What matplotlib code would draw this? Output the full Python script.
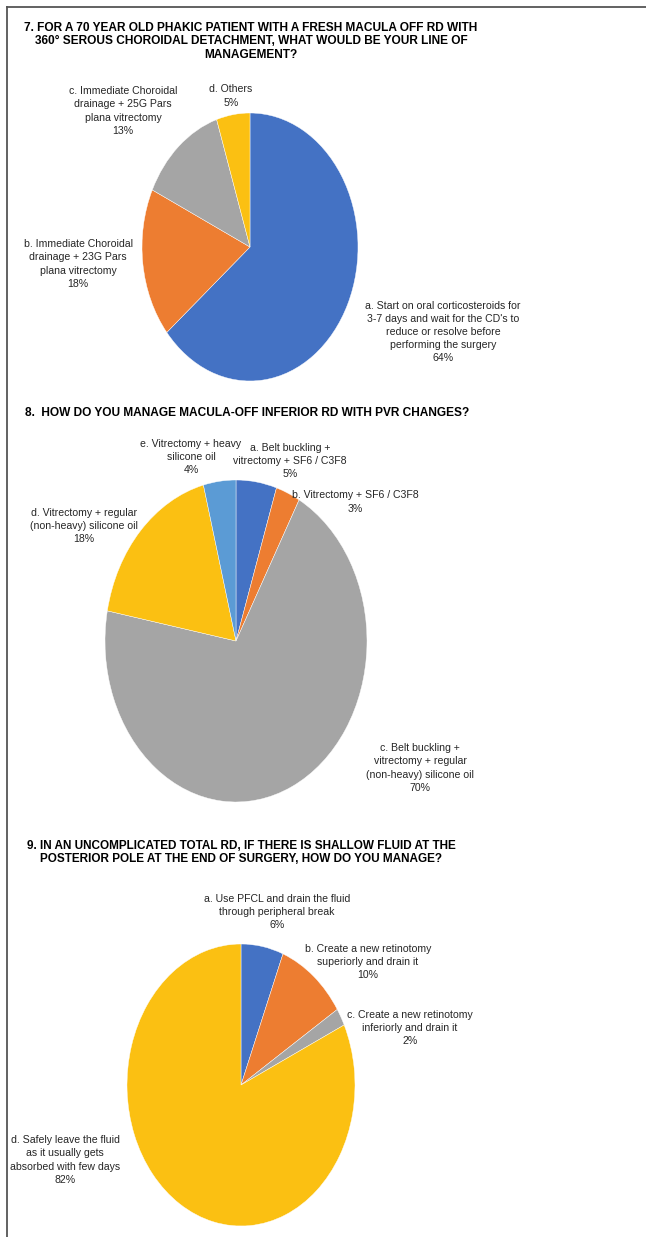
import matplotlib
matplotlib.use("Agg")
import matplotlib.pyplot as plt
from matplotlib.lines import Line2D

# ---- data -------------------------------------------------------------
q7_title = ("7. FOR A 70 YEAR OLD PHAKIC PATIENT WITH A FRESH MACULA OFF RD WITH\n"
            "360° SEROUS CHOROIDAL DETACHMENT, WHAT WOULD BE YOUR LINE OF\n"
            "MANAGEMENT?")
q7_labels = ["a. Start on oral corticosteroids for\n3-7 days and wait for the CD's to\n"
             "reduce or resolve before\nperforming the surgery",
             "b. Immediate Choroidal\ndrainage + 23G Pars\nplana vitrectomy",
             "c. Immediate Choroidal\ndrainage + 25G Pars\nplana vitrectomy",
             "d. Others"]
q7_values = [64, 18, 13, 5]

q8_title = "8.  HOW DO YOU MANAGE MACULA-OFF INFERIOR RD WITH PVR CHANGES?"
q8_labels = ["a. Belt buckling +\nvitrectomy + SF6 / C3F8",
             "b. Vitrectomy + SF6 / C3F8",
             "c. Belt buckling +\nvitrectomy + regular\n(non-heavy) silicone oil",
             "d. Vitrectomy + regular\n(non-heavy) silicone oil",
             "e. Vitrectomy + heavy\nsilicone oil"]
q8_values = [5, 3, 70, 18, 4]

q9_title = ("9. IN AN UNCOMPLICATED TOTAL RD, IF THERE IS SHALLOW FLUID AT THE\n"
            "POSTERIOR POLE AT THE END OF SURGERY, HOW DO YOU MANAGE?")
q9_labels = ["a. Use PFCL and drain the fluid\nthrough peripheral break",
             "b. Create a new retinotomy\nsuperiorly and drain it",
             "c. Create a new retinotomy\ninferiorly and drain it",
             "d. Safely leave the fluid\nas it usually gets\nabsorbed with few days"]
q9_values = [6, 10, 2, 82]

# ---- styling ----------------------------------------------------------
BLUE, ORANGE, GRAY, YELLOW, LIGHTBLUE = "#4472C4", "#ED7D31", "#A5A5A5", "#FBC012", "#5B9BD5"
FONT = ["Liberation Sans", "DejaVu Sans"]
W, H, DPI = 646, 1237, 100

fig = plt.figure(figsize=(W / DPI, H / DPI), dpi=DPI)
fig.patch.set_facecolor("white")


def fx(x):
    return x / W


def fy(y):
    return 1 - y / H


def draw_pie(values, colors, cx, cy, rx, ry):
    """Pie drawn as an ellipse with centre (cx, cy) and radii rx, ry in pixels."""
    ax = fig.add_axes([fx(cx - 1.25 * rx), fy(cy + 1.25 * ry),
                       2.5 * rx / W, 2.5 * ry / H])
    ax.pie(values, colors=colors, startangle=90, counterclock=False,
           wedgeprops=dict(linewidth=0.3, edgecolor="white"))
    ax.set_aspect("auto")
    ax.set_xlim(-1.25, 1.25)
    ax.set_ylim(-1.25, 1.25)
    ax.axis("off")
    return ax


def label(text, value, x, y):
    fig.text(fx(x), fy(y), f"{text}\n{value}%", ha="center", va="center",
             multialignment="center", fontsize=7.6, family=FONT,
             color="#262626", linespacing=1.38)


def title(text, x, y, size, ha="center"):
    fig.text(fx(x), fy(y), text, ha=ha, va="center", multialignment="center",
             fontsize=size, fontweight="bold", family=FONT, color="black",
             linespacing=1.2)


# frame lines (top and left)
fig.add_artist(Line2D([fx(6.5), 1.0], [fy(6.5), fy(6.5)], transform=fig.transFigure,
                      color="#555555", linewidth=1.3))
fig.add_artist(Line2D([fx(6.5), fx(6.5)], [fy(6.5), 0.0], transform=fig.transFigure,
                      color="#555555", linewidth=1.3))

# ---- question 7 ------------------------------------------------------
title(q7_title, 251, 41.5, 8.55)
draw_pie(q7_values, [BLUE, ORANGE, GRAY, YELLOW], 250, 247, 108, 134)
for t, v, (x, y) in zip(q7_labels, q7_values,
                        [(443, 332), (78, 264), (123, 111), (231, 96)]):
    label(t, v, x, y)

# ---- question 8 ------------------------------------------------------
title(q8_title, 25, 413, 8.55, ha="left")
draw_pie(q8_values, [BLUE, ORANGE, GRAY, YELLOW, LIGHTBLUE], 236, 641, 131, 161)
for t, v, (x, y) in zip(q8_labels, q8_values,
                        [(290, 461), (355, 502), (420, 768), (84, 526), (191, 457)]):
    label(t, v, x, y)

# ---- question 9 ------------------------------------------------------
title(q9_title, 241, 852.5, 8.5)
draw_pie(q9_values, [BLUE, ORANGE, GRAY, YELLOW], 241, 1085, 114, 141)
for t, v, (x, y) in zip(q9_labels, q9_values,
                        [(277, 912), (368, 962), (410, 1028), (65, 1160)]):
    label(t, v, x, y)

fig.savefig("out.png", dpi=DPI, facecolor="white")
